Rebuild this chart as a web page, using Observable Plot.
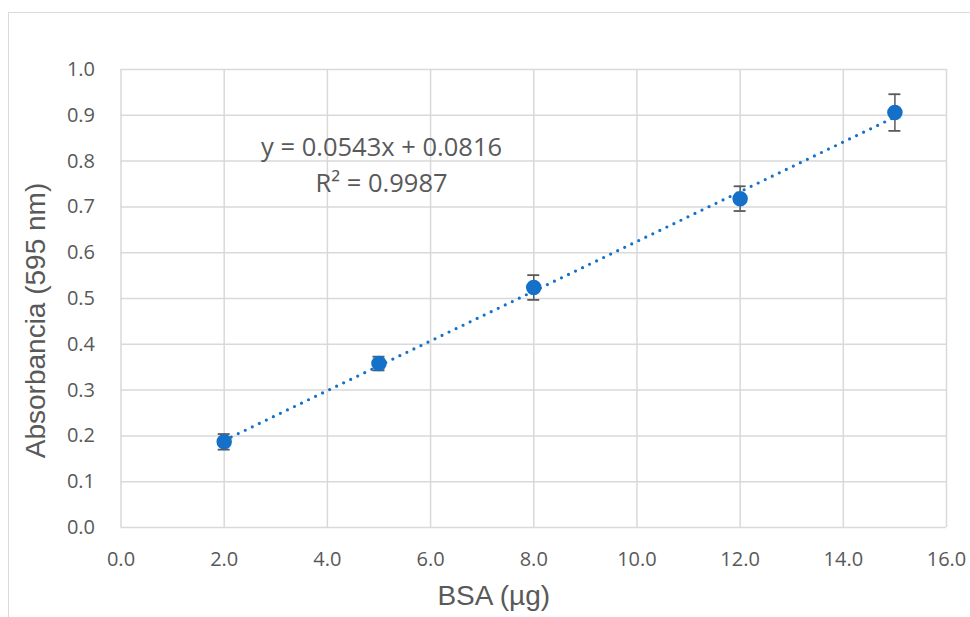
<!DOCTYPE html>
<html>
<head>
<meta charset="utf-8">
<script src="https://cdn.jsdelivr.net/npm/d3@7"></script>
<script src="https://cdn.jsdelivr.net/npm/@observablehq/plot@0.6"></script>
<style>
  html, body { margin: 0; padding: 0; background: #fff; }
  #wrap { position: relative; width: 970px; height: 617px; overflow: hidden; }
  #border { position: absolute; left: 8px; top: 12px; width: 1000px; height: 700px; border: 1.5px solid #d9d9d9; box-sizing: border-box; pointer-events: none; }
  svg { font-family: "Open Sans", sans-serif; }
</style>
</head>
<body>
<div id="wrap"><div id="border"></div></div>
<script>
// Data
const bsa = [2, 5, 8, 12, 15];
const absorbance = [0.187, 0.358, 0.524, 0.718, 0.906];
const errors = [0.017, 0.015, 0.027, 0.027, 0.040];
const slope = 0.0543;
const intercept = 0.0816;
const equationLines = ["y = 0.0543x + 0.0816", "R² = 0.9987"];
const equationPos = [{x: 5.05, y: 0.828}, {x: 5.05, y: 0.750}];
const xTicks = [0, 2, 4, 6, 8, 10, 12, 14, 16];
const yTicks = [0, 0.1, 0.2, 0.3, 0.4, 0.5, 0.6, 0.7, 0.8, 0.9, 1.0];
const xTitle = "BSA (µg)";
const yTitle = "Absorbancia (595 nm)";

const points = bsa.map((x, i) => ({x, y: absorbance[i], e: errors[i]}));
const xMin = d3.min(bsa), xMax = d3.max(bsa);
const trend = [xMin, xMax].map(x => ({x, y: slope * x + intercept}));
const eq = equationLines.map((t, i) => ({...equationPos[i], t}));

const blue = "#1470c8";
const grey = "#595959";
const grid = "#d9d9d9";
const capHalf = 0.116; // half cap width in x units
const titleFont = "'Liberation Sans', Arial, sans-serif";

const chart = Plot.plot({
  width: 970,
  height: 617,
  marginLeft: 120.5,
  marginRight: 24,
  marginTop: 69,
  marginBottom: 90,
  style: {fontFamily: "'Open Sans', sans-serif", background: "transparent"},
  x: {domain: [0, 16]},
  y: {domain: [0, 1]},
  marks: [
    Plot.gridX(xTicks, {stroke: grid, strokeOpacity: 1, strokeWidth: 1.5}),
    Plot.gridY(yTicks, {stroke: grid, strokeOpacity: 1, strokeWidth: 1.5}),
    Plot.axisX({ticks: xTicks, tickFormat: d => d.toFixed(1), tickSize: 0, tickPadding: 24, fontSize: 20, fill: grey, label: null}),
    Plot.axisY({ticks: yTicks, tickFormat: d => d.toFixed(1), tickSize: 0, tickPadding: 26, fontSize: 20, fill: grey, label: null}),
    Plot.text([xTitle], {text: d => d, frameAnchor: "bottom", textAnchor: "middle", dx: -40, dy: 77, fontSize: 28, fill: grey, fontFamily: titleFont}),
    Plot.text([yTitle], {text: d => d, frameAnchor: "left", textAnchor: "middle", dx: -85, dy: 22, rotate: -90, fontSize: 28, fill: grey, fontFamily: titleFont}),
    Plot.line(trend, {x: "x", y: "y", stroke: blue, strokeWidth: 3.2, strokeDasharray: "0 7.8", strokeLinecap: "round"}),
    Plot.ruleX(points, {x: "x", y1: d => d.y - d.e, y2: d => d.y + d.e, stroke: grey, strokeWidth: 1.5}),
    Plot.ruleY(points, {y: d => d.y + d.e, x1: d => d.x - capHalf, x2: d => d.x + capHalf, stroke: grey, strokeWidth: 1.8}),
    Plot.ruleY(points, {y: d => d.y - d.e, x1: d => d.x - capHalf, x2: d => d.x + capHalf, stroke: grey, strokeWidth: 1.8}),
    Plot.dot(points, {x: "x", y: "y", r: 7, fill: blue, stroke: blue}),
    Plot.text(eq, {x: "x", y: "y", text: "t", fontSize: 25.5, fill: grey, textAnchor: "middle"})
  ]
});
document.getElementById("wrap").prepend(chart);
chart.style.position = "absolute";
chart.style.left = "0";
chart.style.top = "0";
</script>
</body>
</html>
